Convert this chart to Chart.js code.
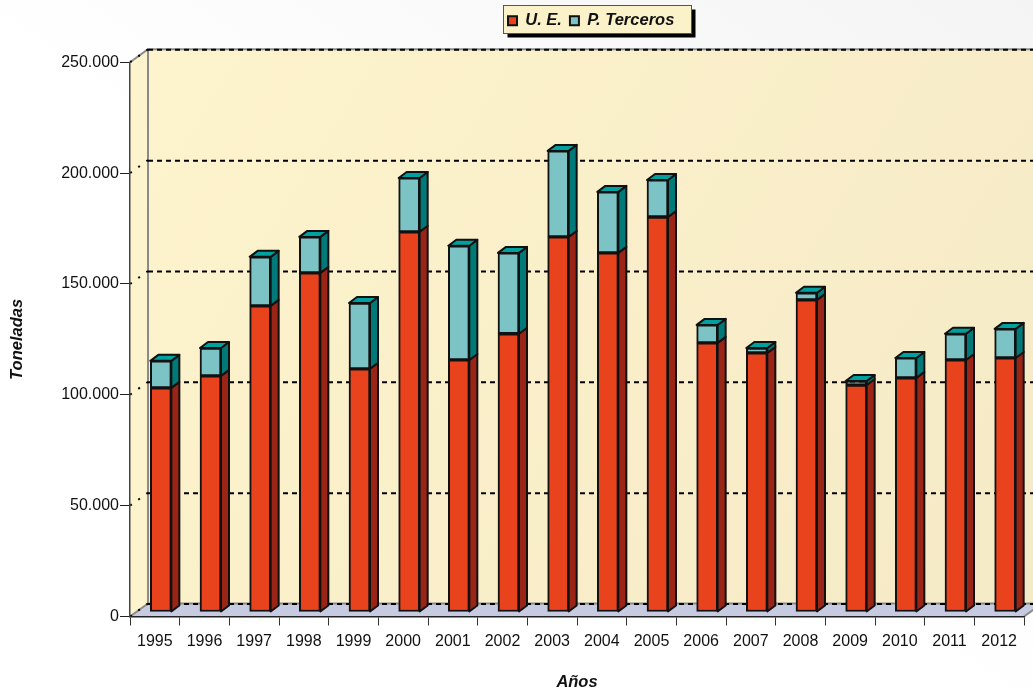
<!DOCTYPE html>
<html><head><meta charset="utf-8">
<style>html,body{margin:0;padding:0;background:#fff}canvas{display:block}</style>
<script src="https://cdn.jsdelivr.net/npm/chart.js@4"></script></head>
<body><canvas id="c" width="1033" height="693"></canvas>
<script>
const years = ['1995','1996','1997','1998','1999','2000','2001','2002','2003','2004','2005','2006','2007','2008','2009','2010','2011','2012'];
const ue = [101100,106500,138100,153000,109700,171500,113700,125500,169200,162000,178200,121400,116900,140800,102400,105600,113700,114600];
const terceros = [12200,12600,22100,16200,29700,24300,51500,36500,38800,27500,16700,8100,2200,3200,1800,9000,11800,13100];
const seriesNames = ['U. E.','P. Terceros'];
const FONT = '"Liberation Sans", Arial, sans-serif';
const BAR = {dx:6, dy:-4.5, sx:8, sy:-6};
const WALL = {dx:18, dy:-13};
const sideColors = ['#9A2516','#007A78'];
const topColor = '#00A09E';

const scene = {
  id:'scene',
  beforeDraw(chart){
    const {ctx,chartArea:a,scales:{y}} = chart;
    const W=chart.width,H=chart.height;
    ctx.save();
    let g=ctx.createLinearGradient(600,650,W,0);
    g.addColorStop(0.2,'#FFFFFF'); g.addColorStop(1,'#F4F4F4');
    ctx.fillStyle=g; ctx.fillRect(0,0,W,H);
    const bx=a.left+WALL.dx, ty=a.top+WALL.dy, by=a.bottom+WALL.dy;
    g=ctx.createLinearGradient(a.left,a.top,W,a.bottom);
    g.addColorStop(0,'#FDF3CC'); g.addColorStop(1,'#F5EAC6');
    ctx.fillStyle=g;
    ctx.fillRect(bx,ty,W-bx,by-ty);
    ctx.fillStyle='#FDF3CC';
    ctx.beginPath();ctx.moveTo(a.left,a.top);ctx.lineTo(bx,ty);ctx.lineTo(bx,by);ctx.lineTo(a.left,a.bottom);ctx.closePath();ctx.fill();
    ctx.fillStyle='#C6CBE1';
    ctx.beginPath();ctx.moveTo(a.left,a.bottom);ctx.lineTo(a.right,a.bottom);ctx.lineTo(a.right+WALL.dx,by);ctx.lineTo(bx,by);ctx.closePath();ctx.fill();
    ctx.strokeStyle='#8A8A8A';ctx.lineWidth=2;
    ctx.beginPath();ctx.moveTo(a.left,a.top);ctx.lineTo(bx,ty);ctx.lineTo(W,ty);ctx.moveTo(bx,ty);ctx.lineTo(bx,by);ctx.lineTo(W,by);ctx.moveTo(bx,by);ctx.lineTo(a.left,a.bottom);ctx.moveTo(a.right,a.bottom);ctx.lineTo(a.right+WALL.dx,by);ctx.stroke();
    ctx.strokeStyle='#000';ctx.lineWidth=2;
    y.ticks.forEach(t=>{
      const py=y.getPixelForValue(t.value);
      ctx.setLineDash([5,4]);
      ctx.beginPath();ctx.moveTo(bx,py+WALL.dy+0.5);ctx.lineTo(W,py+WALL.dy+0.5);ctx.stroke();
      ctx.setLineDash([2,8]);
      ctx.beginPath();ctx.moveTo(bx,py+WALL.dy);ctx.lineTo(a.left,py);ctx.stroke();
    });
    ctx.setLineDash([]);
    const l={x:503,y:5,w:188,h:28};
    ctx.fillStyle='#000';ctx.fillRect(l.x+4.5,l.y+4.5,l.w,l.h);
    ctx.fillStyle='#FBF2C9';ctx.fillRect(l.x,l.y,l.w,l.h);
    ctx.strokeStyle='#555';ctx.lineWidth=1;ctx.strokeRect(l.x+.5,l.y+.5,l.w,l.h);
    ctx.restore();
  },
  afterLayout(chart){
    const lg=chart.legend;
    const w=lg.right-lg.left;
    lg.left=500; lg.right=500+w; lg.top=4.5; lg.bottom=36;
  },
  beforeDatasetsDraw(chart){
    const ctx=chart.ctx;
    ctx.save();
    ctx.translate(BAR.dx,BAR.dy);
    ctx.lineWidth=2;ctx.strokeStyle='#111';ctx.lineJoin='round';
    chart.data.datasets.forEach((ds,i)=>{
      chart.getDatasetMeta(i).data.forEach(b=>{
        const r=b.x+b.width/2, top=b.y, bot=b.base;
        ctx.fillStyle=sideColors[i];
        ctx.beginPath();ctx.moveTo(r,top);ctx.lineTo(r+BAR.sx,top+BAR.sy);ctx.lineTo(r+BAR.sx,bot+BAR.sy);ctx.lineTo(r,bot);ctx.closePath();ctx.fill();ctx.stroke();
        if(i===chart.data.datasets.length-1){
          const l=b.x-b.width/2;
          ctx.fillStyle=topColor;
          ctx.beginPath();ctx.moveTo(l,top);ctx.lineTo(l+BAR.sx,top+BAR.sy);ctx.lineTo(r+BAR.sx,top+BAR.sy);ctx.lineTo(r,top);ctx.closePath();ctx.fill();ctx.stroke();
        }
      });
    });
  },
  afterDatasetsDraw(chart){ chart.ctx.restore(); }
};

new Chart(document.getElementById('c'),{
  type:'bar',
  data:{labels:years,datasets:[
    {label:seriesNames[0],data:ue,backgroundColor:'#E8431C',borderColor:'#111',borderWidth:2,borderSkipped:false,clip:false},
    {label:seriesNames[1],data:terceros,backgroundColor:'#7CC3C5',borderColor:'#111',borderWidth:2,borderSkipped:false,clip:false}
  ]},
  options:{
    responsive:false,animation:false,
    layout:{autoPadding:false,padding:{top:27.8,right:9,left:0,bottom:0}},
    datasets:{bar:{barThickness:21}},
    plugins:{
      tooltip:{enabled:false},
      legend:{display:true,position:'top',align:'start',
        labels:{boxWidth:9,boxHeight:9,padding:8,color:'#111',font:{family:FONT,size:16.5,weight:'bold',style:'italic'}}}
    },
    scales:{
      x:{stacked:true,offset:true,
        grid:{drawOnChartArea:false,tickLength:9,color:'#333',tickColor:'#333'},
        border:{color:'#222',width:1.5},
        ticks:{color:'#111',font:{family:FONT,size:16},maxRotation:0,autoSkip:false,padding:6},
        title:{display:true,text:'Años',color:'#111',font:{family:FONT,size:16.5,weight:'bold',style:'italic'},padding:{top:0,bottom:1}},
        afterFit(s){s.height=76.5;}
      },
      y:{stacked:true,min:0,max:250000,
        grid:{drawOnChartArea:false,tickLength:10,color:'#222',tickColor:'#222'},
        border:{color:'#444',width:1.5},
        ticks:{stepSize:50000,color:'#111',font:{family:FONT,size:16},padding:1,
          callback:v=>String(v).replace(/\B(?=(\d{3})+$)/g,'.')},
        title:{display:true,text:'Toneladas',color:'#111',font:{family:FONT,size:16.5,weight:'bold',style:'italic'},padding:{top:8,bottom:0}},
        afterFit(s){s.width=130;}
      }
    }
  },
  plugins:[scene]
});
</script></body></html>
